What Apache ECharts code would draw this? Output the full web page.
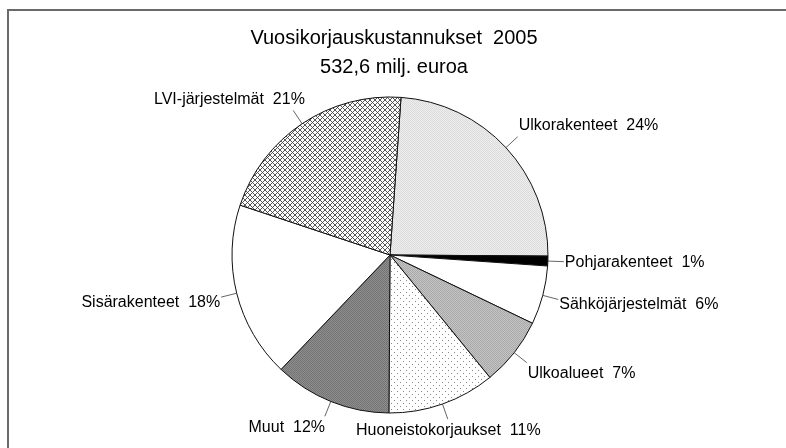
<!DOCTYPE html>
<html>
<head>
<meta charset="utf-8">
<script src="https://cdn.jsdelivr.net/npm/echarts@6/dist/echarts.min.js"></script>
<style>
  html, body { margin: 0; padding: 0; background: #ffffff; }
  #chart { width: 786px; height: 448px; }
</style>
</head>
<body>
<div id="chart"></div>
<script>
// Annual repair costs 2005, shares by category (%)
const categories = [
  'Ulkorakenteet',
  'Pohjarakenteet',
  'Sähköjärjestelmät',
  'Ulkoalueet',
  'Huoneistokorjaukset',
  'Muut',
  'Sisärakenteet',
  'LVI-järjestelmät'
];
const shares = [24, 1, 6, 7, 11, 12, 18, 21];
const titleLines = ['Vuosikorjauskustannukset  2005', '532,6 milj. euroa'];

const FONT = '"Liberation Sans", Arial, Helvetica, sans-serif';
const CENTER = [390, 255];
const RADIUS = 158;
const START_ANGLE = 86;      // degrees, counter-clockwise from 3 o'clock
const LEADER = 16;           // leader line length outside the rim
// extra sideways nudge for the two labels under the pie
const labelNudgeX = [0, 0, 0, 0, -46, -16, 0, 0];

// Small tiled canvases used as slice fills
function makeTile(w, h, draw) {
  const c = document.createElement('canvas');
  c.width = w; c.height = h;
  draw(c.getContext('2d'), w, h);
  return { image: c, repeat: 'repeat' };
}
function checker(a, b) {
  return makeTile(2, 2, (g) => {
    g.fillStyle = a; g.fillRect(0, 0, 2, 2);
    g.fillStyle = b; g.fillRect(0, 0, 1, 1); g.fillRect(1, 1, 1, 1);
  });
}
const crossHatch = makeTile(5, 5, (g, w, h) => {
  g.fillStyle = '#ffffff'; g.fillRect(0, 0, w, h);
  g.strokeStyle = '#444444'; g.lineWidth = 0.9;
  g.beginPath();
  g.moveTo(-1, -1); g.lineTo(w + 1, h + 1);
  g.moveTo(-1, h + 1); g.lineTo(w + 1, -1);
  g.stroke();
});
const sparseDots = makeTile(6, 6, (g, w, h) => {
  g.fillStyle = '#ffffff'; g.fillRect(0, 0, w, h);
  g.fillStyle = '#8a8a8a';
  g.fillRect(1, 1, 1, 1);
  g.fillRect(4, 4, 1, 1);
});

const fills = [
  checker('#ededed', '#dcdcdc'),
  '#000000',
  '#ffffff',
  checker('#c4c4c4', '#a9a9a9'),
  sparseDots,
  checker('#8e8e8e', '#747474'),
  '#ffffff',
  crossHatch
];

const data = categories.map((name, i) => ({
  name: name,
  value: shares[i],
  itemStyle: { color: fills[i] }
}));

// Mid angle of each slice, clockwise from 12 o'clock (radians)
const total = shares.reduce((a, b) => a + b, 0);
const midAngles = [];
{
  let acc = (90 - START_ANGLE) * Math.PI / 180;
  shares.forEach((v) => {
    const span = v / total * Math.PI * 2;
    midAngles.push(acc + span / 2);
    acc += span;
  });
}
const clamp = (v) => Math.max(-1, Math.min(1, v));

// Labels sit at the end of a short straight leader, pushed outward from the rim
function placeLabel(params) {
  const i = params.dataIndex;
  const t = midAngles[i];
  const s = Math.sin(t), c = Math.cos(t);
  const px = CENTER[0] + RADIUS * s, py = CENTER[1] - RADIUS * c;
  const ex = CENTER[0] + (RADIUS + LEADER) * s, ey = CENTER[1] - (RADIUS + LEADER) * c;
  const w = params.labelRect.width, h = params.labelRect.height;
  const fx = clamp(1.5 * s), fy = clamp(-2 * c);
  return {
    x: ex + fx * (w / 2 + 1) + labelNudgeX[i],
    y: ey + fy * (h / 2 + 3),
    align: 'center',
    verticalAlign: 'middle',
    labelLinePoints: [[px, py], [ex, ey], [ex, ey]]
  };
}

const chart = echarts.init(document.getElementById('chart'), null, { renderer: 'canvas' });
chart.setOption({
  backgroundColor: '#ffffff',
  animation: false,
  title: {
    text: titleLines.join('\n'),
    left: 389,
    top: 19,
    textAlign: 'center',
    textStyle: {
      fontFamily: FONT,
      fontSize: 20,
      fontWeight: 'normal',
      lineHeight: 29,
      color: '#000000'
    }
  },
  graphic: [{
    type: 'rect',
    shape: { x: 8, y: 10, width: 800, height: 460 },
    style: { fill: 'none', stroke: '#6a6a6a', lineWidth: 2 },
    silent: true
  }],
  series: [{
    type: 'pie',
    center: CENTER,
    radius: RADIUS,
    startAngle: START_ANGLE,
    clockwise: true,
    avoidLabelOverlap: false,
    data: data,
    itemStyle: { borderColor: '#111111', borderWidth: 1 },
    label: {
      show: true,
      formatter: '{b}  {c}%',
      fontFamily: FONT,
      fontSize: 16,
      color: '#000000'
    },
    labelLine: {
      show: true,
      length: LEADER,
      length2: 0,
      lineStyle: { color: '#666666', width: 1 }
    },
    labelLayout: placeLabel,
    emphasis: { disabled: true }
  }]
});
</script>
</body>
</html>
